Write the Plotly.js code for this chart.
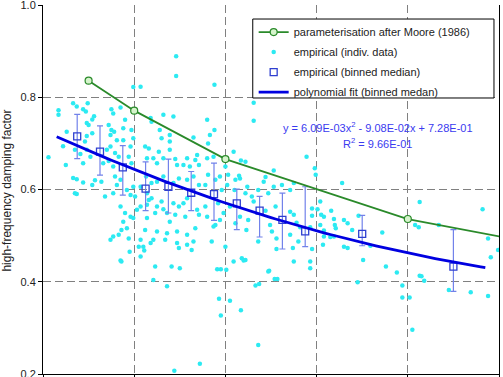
<!DOCTYPE html>
<html>
<head>
<meta charset="utf-8">
<script src="https://cdn.plot.ly/plotly-3.0.1.min.js"></script>
<style>
  html, body { margin: 0; padding: 0; background: #fff; }
  #chart { width: 503px; height: 377px; }
</style>
</head>
<body>
<div id="chart"></div>
<script>
// Individual measurements
const indivX = [
  0.99,1.07,0.33,0.37,0.49,0.44,0.17,0.17,0.47,0.56,0.54,0.75,0.77,0.85,0.90,0.88,0.48,0.50,0.72,0.75,
  0.78,0.74,0.97,0.99,0.88,0.81,0.54,0.48,0.46,0.26,0.22,0.06,0.35,0.41,0.48,0.52,0.70,0.74,0.79,0.83,
  0.72,0.96,0.94,0.25,0.44,0.66,0.77,0.97,0.33,0.37,
  0.37,0.44,0.35,0.54,0.57,0.64,0.68,0.77,0.81,0.85,0.79,0.92,0.96,1.01,1.07,0.99,0.85,0.90,0.96,0.99,
  0.88,1.03,1.07,0.86,0.83,0.77,0.74,0.92,0.94,1.07,1.05,0.95,0.85,1.07,
  1.46,1.46,1.88,1.18,1.19,1.32,1.43,1.80,1.28,1.30,1.39,1.39,1.65,1.88,1.83,1.81,1.12,1.16,1.27,1.39,
  1.14,1.21,1.32,1.45,1.47,1.58,1.67,1.69,1.71,1.80,1.87,2.09,2.00,1.25,1.54,1.61,
  1.13,1.19,1.25,1.32,1.43,1.49,1.58,1.65,1.71,1.78,1.81,1.89,1.94,2.02,2.03,2.11,2.16,
  1.14,1.16,1.19,1.14,1.25,1.30,1.23,1.14,1.36,1.39,1.45,1.32,1.43,1.49,1.54,1.58,1.56,1.69,1.71,1.78,
  1.80,1.96,1.92,1.98,1.89,1.94,2.05,2.16,2.11,1.12,1.25,1.36,1.47,1.58,1.67,1.87,1.21,1.18,1.34,1.47,
  1.58,1.65,1.85,1.49,1.63,1.10,2.00,1.23,1.41,1.50,1.91,1.95,2.09,2.18,1.21,1.36,
  2.01,1.93,1.95,2.05,2.17,1.72,1.44,2.36,2.33,2.37,2.48,2.54,2.57,2.20,2.75,2.93,2.93,3.45,3.51,3.76,
  3.88,3.94,3.94,4.02,4.05,4.13,4.15,4.18,4.45,4.69,4.88,2.36,2.56,2.74,2.80,3.07,2.95,2.22,2.47,0.86,1.11,
  2.22,2.53,2.89,2.98,2.99,2.24,2.22,2.29,2.36,2.44,2.47,2.53,2.62,2.71,2.75,2.31,2.55,2.44,2.71,2.75,
  2.78,2.95,3.05,3.16,3.19,3.28,2.25,2.23,2.49,2.51,2.82,2.93,3.04,3.08,3.20,3.19,2.56,2.71,
  2.15,2.10,2.42,4.13,4.82,4.88,4.99,4.91,3.34,3.30,3.39,3.34,3.30,3.15,3.08,3.21,3.08,3.01,2.95,3.04,
  3.72,3.59,3.46,4.08,4.12,4.34,2.31,2.31,2.17
];
const indivY = [
  0.822,0.823,0.787,0.780,0.787,0.774,0.772,0.762,0.769,0.759,0.752,0.774,0.765,0.778,0.751,0.733,0.744,0.740,0.740,0.729,
  0.725,0.718,0.729,0.711,0.707,0.707,0.722,0.716,0.704,0.725,0.694,0.670,0.686,0.677,0.686,0.671,0.686,0.693,0.679,0.671,
  0.662,0.693,0.671,0.653,0.657,0.657,0.650,0.657,0.625,0.590,
  0.622,0.615,0.592,0.610,0.620,0.617,0.585,0.592,0.610,0.621,0.628,0.599,0.588,0.585,0.606,0.606,0.563,0.549,0.541,0.538,
  0.530,0.556,0.563,0.512,0.502,0.498,0.491,0.516,0.494,0.491,0.476,0.465,0.446,0.455,
  0.889,0.846,0.827,0.755,0.747,0.762,0.758,0.751,0.729,0.711,0.718,0.704,0.713,0.729,0.718,0.700,0.693,0.689,0.682,0.686,
  0.668,0.668,0.668,0.666,0.653,0.668,0.664,0.675,0.653,0.668,0.671,0.682,0.650,0.657,0.653,0.650,
  0.628,0.614,0.617,0.628,0.614,0.624,0.621,0.628,0.610,0.610,0.632,0.621,0.628,0.610,0.632,0.621,0.624,
  0.592,0.577,0.581,0.567,0.563,0.574,0.549,0.538,0.549,0.530,0.545,0.557,0.570,0.563,0.570,0.581,0.541,0.556,0.545,0.563,
  0.541,0.599,0.570,0.549,0.523,0.534,0.563,0.541,0.527,0.512,0.509,0.505,0.509,0.502,0.516,0.520,0.491,0.484,0.491,0.484,
  0.480,0.487,0.487,0.473,0.469,0.476,0.476,0.433,0.433,0.429,0.427,0.427,0.444,0.451,0.404,0.390,
  0.426,0.363,0.327,0.359,0.338,0.222,0.207,0.263,0.392,0.395,0.424,0.406,0.406,0.446,0.444,0.444,0.429,0.399,0.447,0.433,
  0.420,0.392,0.366,0.366,0.296,0.413,0.412,0.402,0.382,0.377,0.369,0.487,0.471,0.473,0.487,0.480,0.471,0.447,0.422,0.444,0.468,
  0.660,0.641,0.671,0.646,0.632,0.606,0.592,0.585,0.599,0.627,0.592,0.606,0.610,0.599,0.614,0.574,0.563,0.554,0.552,0.545,
  0.528,0.559,0.545,0.554,0.536,0.614,0.534,0.512,0.523,0.509,0.518,0.518,0.523,0.498,0.523,0.498,0.494,0.502,
  0.630,0.599,0.617,0.573,0.557,0.494,0.469,0.453,0.527,0.534,0.512,0.473,0.476,0.497,0.511,0.516,0.541,0.557,0.543,0.574,
  0.507,0.478,0.543,0.523,0.518,0.523,0.788,0.749,0.663
];

// Binned medians with lower / upper spread
const binX   = [0.375, 0.625, 0.875, 1.125, 1.375, 1.625, 1.875, 2.125, 2.375, 2.625, 2.875, 3.5, 4.5];
const binMed = [0.715, 0.682, 0.648, 0.602, 0.606, 0.593, 0.590, 0.570, 0.554, 0.534, 0.509, 0.504, 0.433];
const binHi  = [0.763, 0.738, 0.695, 0.660, 0.666, 0.639, 0.657, 0.601, 0.585, 0.592, 0.606, 0.544, 0.513];
const binLo  = [0.667, 0.631, 0.588, 0.554, 0.549, 0.554, 0.533, 0.513, 0.497, 0.471, 0.476, 0.478, 0.379];

// Moore (1986) parameterisation
const mooreX = [0.5, 1, 2, 4, 8];
const mooreY = [0.836, 0.771, 0.666, 0.536, 0.385];

// Quadratic fit to the binned medians: y = a*x^2 + b*x + c
const fitCoef = { a: 6.09e-3, b: -9.08e-2, c: 7.28e-1 };
const fitRange = [0.15, 4.87];
const fitX = [];
for (let x = fitRange[0]; x <= fitRange[1] + 1e-9; x += 0.05) fitX.push(+x.toFixed(3));
const fitY = fitX.map(x => fitCoef.a * x * x + fitCoef.b * x + fitCoef.c);

// Axis ticks
const yTicks = [0.2, 0.4, 0.6, 0.8, 1.0];
const xTicks = [0, 1, 2, 3, 4, 5];

const FONT = 'Liberation Sans, Arial, sans-serif';

const traces = [
  {
    x: indivX, y: indivY, type: 'scatter', mode: 'markers',
    name: 'empirical (indiv. data)', legendrank: 2, legendgroup: 'b',
    marker: { symbol: 'circle', size: 4.5, color: '#2ceaf2', line: { width: 0 } },
    hoverinfo: 'skip'
  },
  {
    x: binX, y: binMed, type: 'scatter', mode: 'markers',
    name: 'empirical (binned median)', legendrank: 3, legendgroup: 'c',
    marker: { symbol: 'square-open', size: 7, color: '#2f3fd0', line: { width: 1.3 } },
    error_y: {
      type: 'data', symmetric: false,
      array: binHi.map((v, i) => v - binMed[i]),
      arrayminus: binLo.map((v, i) => binMed[i] - v),
      color: '#7282ea', thickness: 1.2, width: 3
    }
  },
  {
    x: fitX, y: fitY, type: 'scatter', mode: 'lines',
    name: 'polynomial fit (binned medan)', legendrank: 4, legendgroup: 'd',
    line: { color: '#0000e0', width: 2.8 }
  },
  {
    x: mooreX, y: mooreY, type: 'scatter', mode: 'lines+markers',
    name: 'parameterisation after Moore (1986)', legendrank: 1, legendgroup: 'a',
    line: { color: '#2a8a2a', width: 1.8 },
    marker: { symbol: 'circle', size: 7, color: '#d6f4cc', line: { color: '#2a8a2a', width: 1.2 } }
  }
];

const layout = {
  width: 503, height: 377,
  margin: { l: 43, r: 4, t: 5, b: 3, pad: 0 },
  paper_bgcolor: '#ffffff', plot_bgcolor: '#ffffff',
  font: { family: FONT, size: 11, color: '#222' },
  showlegend: true,
  legend: {
    x: 0.462, y: 0.966, xanchor: 'left', yanchor: 'top',
    bgcolor: 'rgba(255,255,255,0)', borderwidth: 0,
    traceorder: 'grouped', tracegroupgap: 1,
    font: { family: FONT, size: 11, color: '#222' }
  },
  xaxis: {
    range: [0, 5], tickmode: 'array', tickvals: xTicks,
    showticklabels: false, ticks: 'outside', ticklen: 4, tickcolor: '#000',
    showline: true, linecolor: '#000', linewidth: 1, mirror: false,
    showgrid: true, gridcolor: '#808080', gridwidth: 1, griddash: '8px,4px',
    zeroline: false, automargin: false, fixedrange: true
  },
  yaxis: {
    range: [0.2, 1.0], tickmode: 'array', tickvals: yTicks,
    ticktext: yTicks.map(v => v.toFixed(1)), ticklabeloverflow: 'allow',
    ticks: 'outside', ticklen: 4, tickcolor: '#000',
    showline: true, linecolor: '#000', linewidth: 1, mirror: true,
    showgrid: true, gridcolor: '#808080', gridwidth: 1, griddash: '8px,4px',
    zeroline: false, automargin: false, fixedrange: true,
    tickfont: { family: FONT, size: 11, color: '#222' }
  },
  shapes: [
    // legend frame, drawn over the data
    { type: 'rect', xref: 'paper', yref: 'paper', x0: 0.46, x1: 0.989, y0: 0.748, y1: 0.962,
      layer: 'above', fillcolor: '#ffffff', opacity: 1, line: { color: '#000000', width: 1 } }
  ],
  annotations: [
    { xref: 'paper', yref: 'paper', x: -0.079, y: 0.497, xanchor: 'center', yanchor: 'middle',
      textangle: -90, showarrow: false, text: 'high-frequency damping factor',
      font: { family: FONT, size: 12, color: '#222' } },
    { xref: 'paper', yref: 'paper', x: 0.734, y: 0.669, xanchor: 'center', yanchor: 'middle',
      showarrow: false, text: 'y = 6.09E-03x<sup>2</sup> - 9.08E-02x + 7.28E-01',
      font: { family: FONT, size: 11, color: '#3a3af0' } },
    { xref: 'paper', yref: 'paper', x: 0.734, y: 0.626, xanchor: 'center', yanchor: 'middle',
      showarrow: false, text: 'R<sup>2</sup> = 9.66E-01',
      font: { family: FONT, size: 11, color: '#3a3af0' } }
  ]
};

Plotly.newPlot('chart', traces, layout, { staticPlot: true, displayModeBar: false });
</script>
</body>
</html>
